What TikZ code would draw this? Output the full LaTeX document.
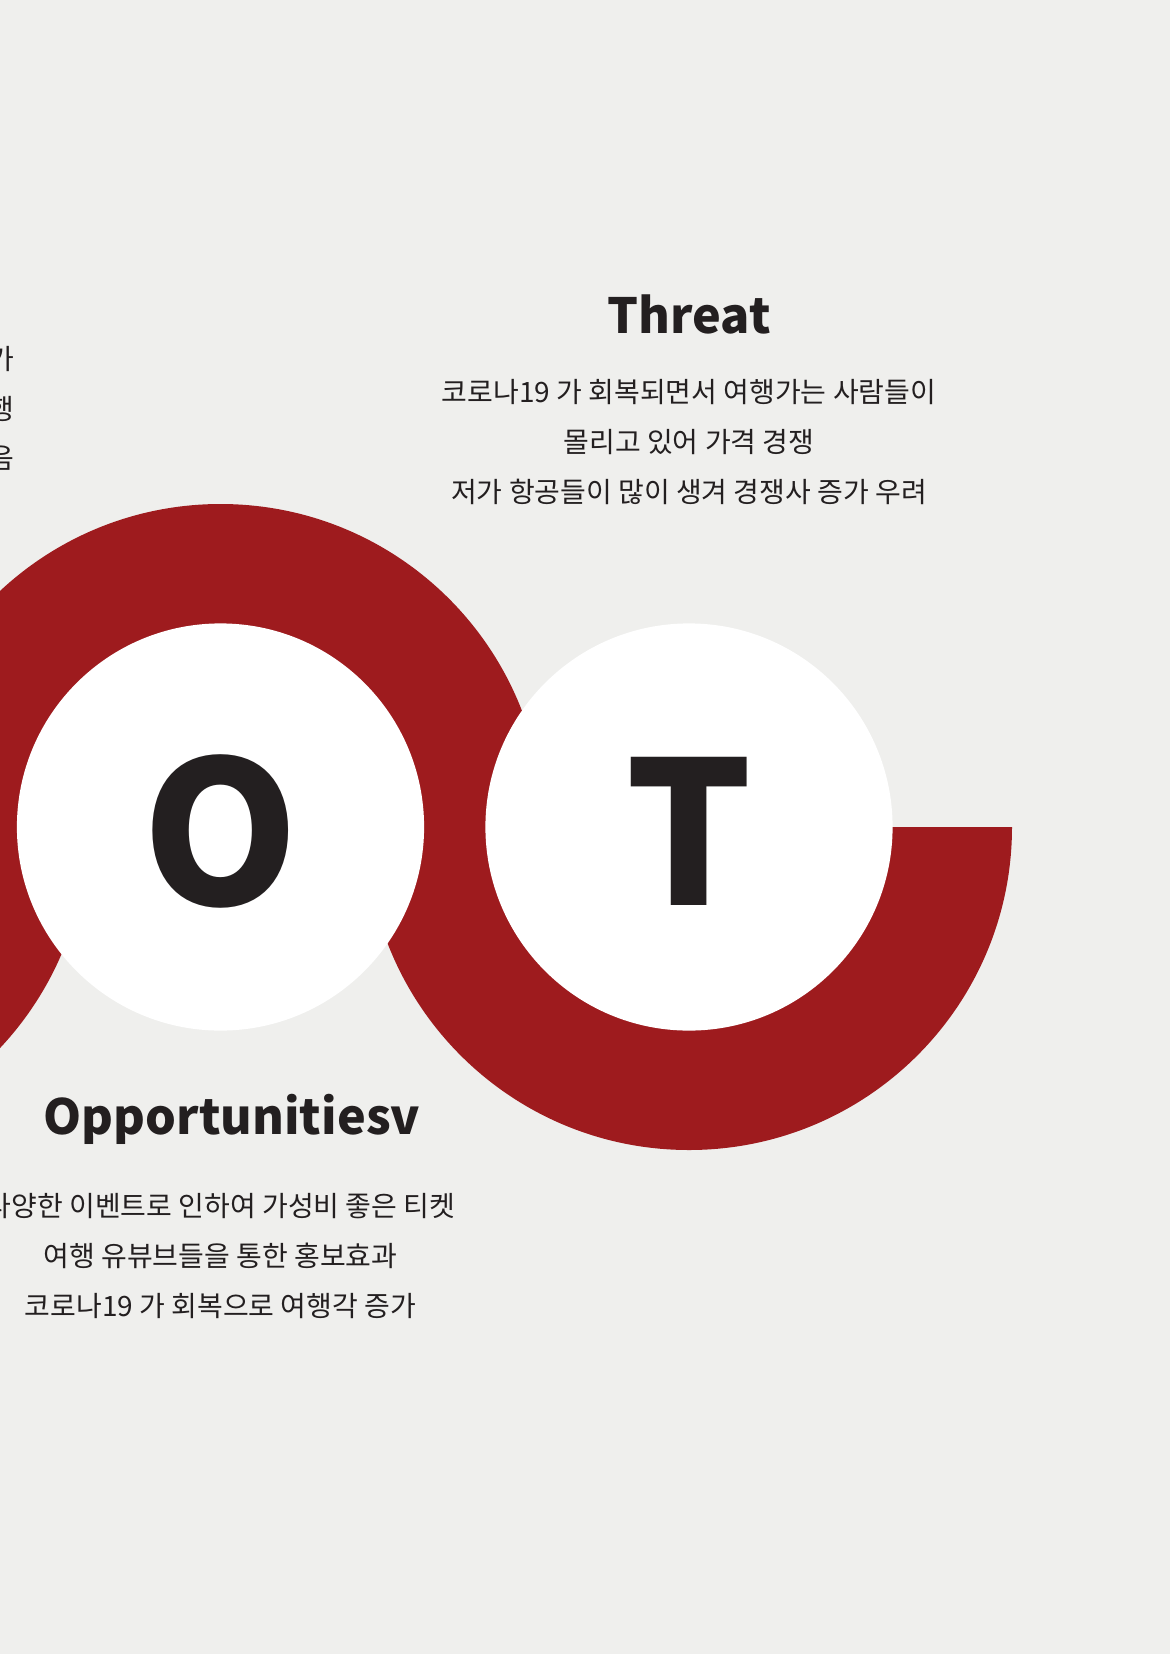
\documentclass[tikz,border=0pt]{standalone}
\usepackage{fontspec}
\setmainfont{Noto Sans CJK KR}
\definecolor{bgc}{HTML}{EFEFED}
\definecolor{ringred}{HTML}{9E1B1E}
\definecolor{ink}{HTML}{231F20}
\tikzset{
  ring/.style={fill=ringred},
  disc/.style={circle, fill=white, minimum size=407.2pt, inner sep=0pt},
  letter/.style={inner sep=0pt, text=ink, font=\fontsize{199}{199}\selectfont\bfseries},
  heading/.style={anchor=base, text=ink, inner sep=0pt, font=\fontsize{48.5}{54}\selectfont\bfseries},
  body/.style={anchor=base, text=ink, inner sep=0pt, font=\fontsize{28}{32}\selectfont},
  cutbody/.style={anchor=base east, text=ink, inner sep=0pt, font=\fontsize{28}{32}\selectfont}
}
\begin{document}
\begin{tikzpicture}[x=1pt,y=-1pt]
\fill[bgc] (0,0) rectangle (1170,1654);
\useasboundingbox (0,0) rectangle (1170,1654);
% red half rings (outer discs)
\fill[ring] (-235.5,827) ++(323,0) arc[start angle=0, end angle=180, radius=323] -- cycle;
\fill[ring] (220.5,827) ++(-323,0) arc[start angle=180, end angle=360, radius=323] -- cycle;
\fill[ring] (689,827) ++(323,0) arc[start angle=0, end angle=180, radius=323] -- cycle;
% white discs with letters
\node[disc] (O) at (220.5,827) {};
\node[disc] (T) at (689,827) {};
\node[letter] (Ol) at ([yshift=-4pt]O.center) {O};
\node[letter] (Tl) at ([yshift=-4pt]T.center) {T};
% Threat
\node[heading] (th) at (689,333) {Threat};
\node[body] (t1) at (689,402) {코로나19 가 회복되면서 여행가는 사람들이};
\node[body] (t2) at (689,452) {몰리고 있어 가격 경쟁};
\node[body] (t3) at (689,502) {저가 항공들이 많이 생겨 경쟁사 증가 우려};
% Opportunities
\node[heading] (oh) at (232,1134) {Opportunitiesv};
\node[body] (o1) at (220.5,1216) {다양한 이벤트로 인하여 가성비 좋은 티켓};
\node[body] (o2) at (220.5,1266) {여행 유뷰브들을 통한 홍보효과};
\node[body] (o3) at (220.5,1316) {코로나19 가 회복으로 여행각 증가};
% cut-off text at left edge
\node[cutbody] (l1) at (14,369) {가};
\node[cutbody] (l2) at (14,419) {행};
\node[cutbody] (l3) at (14,468) {음};
\end{tikzpicture}
\end{document}
